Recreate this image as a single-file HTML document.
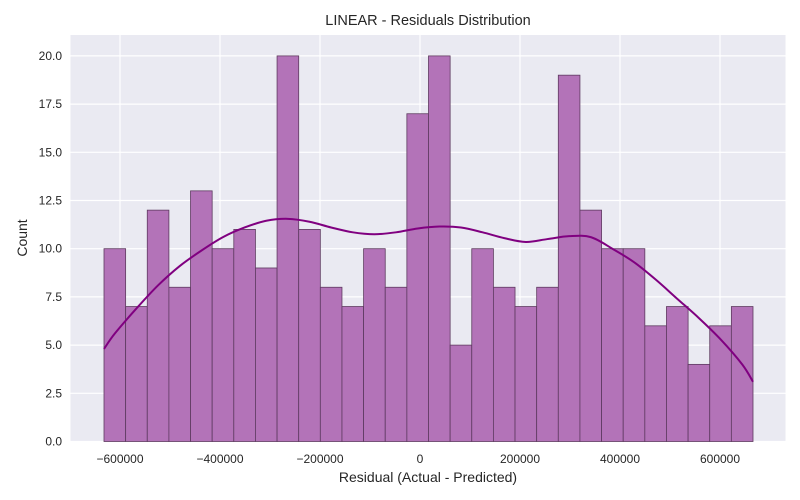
<!DOCTYPE html>
<html><head><meta charset="utf-8"><style>
body{margin:0;background:#fff;}
svg{display:block;font-family:"Liberation Sans","DejaVu Sans",sans-serif;}
</style></head><body>
<svg id="chart" width="800" height="500" viewBox="0 0 800 500" xmlns="http://www.w3.org/2000/svg">
<rect width="800" height="500" fill="#fff"/>
<rect x="70.5" y="35" width="715" height="406.5" fill="#eaeaf2"/>
<g id="grid"></g>
<g id="bars"></g>
<path id="kde" fill="none" stroke="#800080" stroke-width="2"/>
<g id="xticks"></g>
<g id="yticks"></g>
<text x="428" y="25" text-anchor="middle" font-size="14.5" fill="#262626">LINEAR - Residuals Distribution</text>
<text x="428" y="482" text-anchor="middle" font-size="14" fill="#262626">Residual (Actual - Predicted)</text>
<text transform="translate(27,238) rotate(-90)" text-anchor="middle" font-size="14" fill="#262626">Count</text>
</svg>
<script>
const counts=[10,7,12,8,13,10,11,9,20,11,8,7,10,8,17,20,5,10,8,7,8,19,12,10,10,6,7,4,6,7];
const binStart=-632000;
const binEnd=666000;
const kdeValues=[4.8,5.6,6.9,8.1,9.1,9.9,10.6,11.1,11.45,11.55,11.4,11.1,10.85,10.75,10.85,11.05,11.15,11.1,10.85,10.55,10.35,10.5,10.65,10.6,10.0,9.3,8.4,7.4,6.4,5.3,4.0,3.1];
const xTicks=[-600000,-400000,-200000,0,200000,400000,600000];
const yTicks=[0,2.5,5,7.5,10,12.5,15,17.5,20];
const NS="http://www.w3.org/2000/svg";
const X=v=>420+v*0.0005;
const Y=v=>441.5-v*19.28;
function mk(tag,attrs,parent){const e=document.createElementNS(NS,tag);for(const k in attrs)e.setAttribute(k,attrs[k]);parent.appendChild(e);return e;}
const grid=document.getElementById('grid');
const xg=document.getElementById('xticks'),yg=document.getElementById('yticks');
xTicks.forEach(t=>{
  const l=mk('line',{x1:X(t),x2:X(t),y1:35,y2:441.5,stroke:'#fff','stroke-width':1.2},grid);
  
  
  const tx=mk('text',{x:X(t),y:463,'text-anchor':'middle','font-size':12,fill:'#262626'},xg);
  tx.textContent=(t<0?'\u2212'+(-t):t);
  
  
});
yTicks.forEach(t=>{
  const l=mk('line',{x1:70.5,x2:785.5,y1:Y(t),y2:Y(t),stroke:'#fff','stroke-width':1.2},grid);
  
  
  const tx=mk('text',{x:62,y:Y(t)+4,'text-anchor':'end','font-size':12,fill:'#262626'},yg);
  tx.textContent=t.toFixed(1);
  
  
});
const bars=document.getElementById('bars');
const bw=(binEnd-binStart)/counts.length;
counts.forEach((c,i)=>{
  const x0=X(binStart+i*bw),x1=X(binStart+(i+1)*bw);
  const r=mk('rect',{x:x0,y:Y(c),width:x1-x0,height:Y(0)-Y(c),fill:'#b373b8',stroke:'#5e3a60','stroke-width':0.8},bars);
  
  
});
const n=kdeValues.length;
const pts=kdeValues.map((v,i)=>{
  let xv;
  if(i===0)xv=binStart;else if(i===n-1)xv=binEnd;else xv=binStart+(i-0.5)*(binEnd-binStart)/(n-2);
  return [X(xv),Y(v)];
});
let d='M'+pts[0][0]+','+pts[0][1];
for(let i=0;i<pts.length-1;i++){
  const p0=pts[Math.max(0,i-1)],p1=pts[i],p2=pts[i+1],p3=pts[Math.min(pts.length-1,i+2)];
  const c1=[p1[0]+(p2[0]-p0[0])/6,p1[1]+(p2[1]-p0[1])/6];
  const c2=[p2[0]-(p3[0]-p1[0])/6,p2[1]-(p3[1]-p1[1])/6];
  d+=` C${c1[0]},${c1[1]} ${c2[0]},${c2[1]} ${p2[0]},${p2[1]}`;
}
document.getElementById('kde').setAttribute('d',d);
</script>
</body></html>
